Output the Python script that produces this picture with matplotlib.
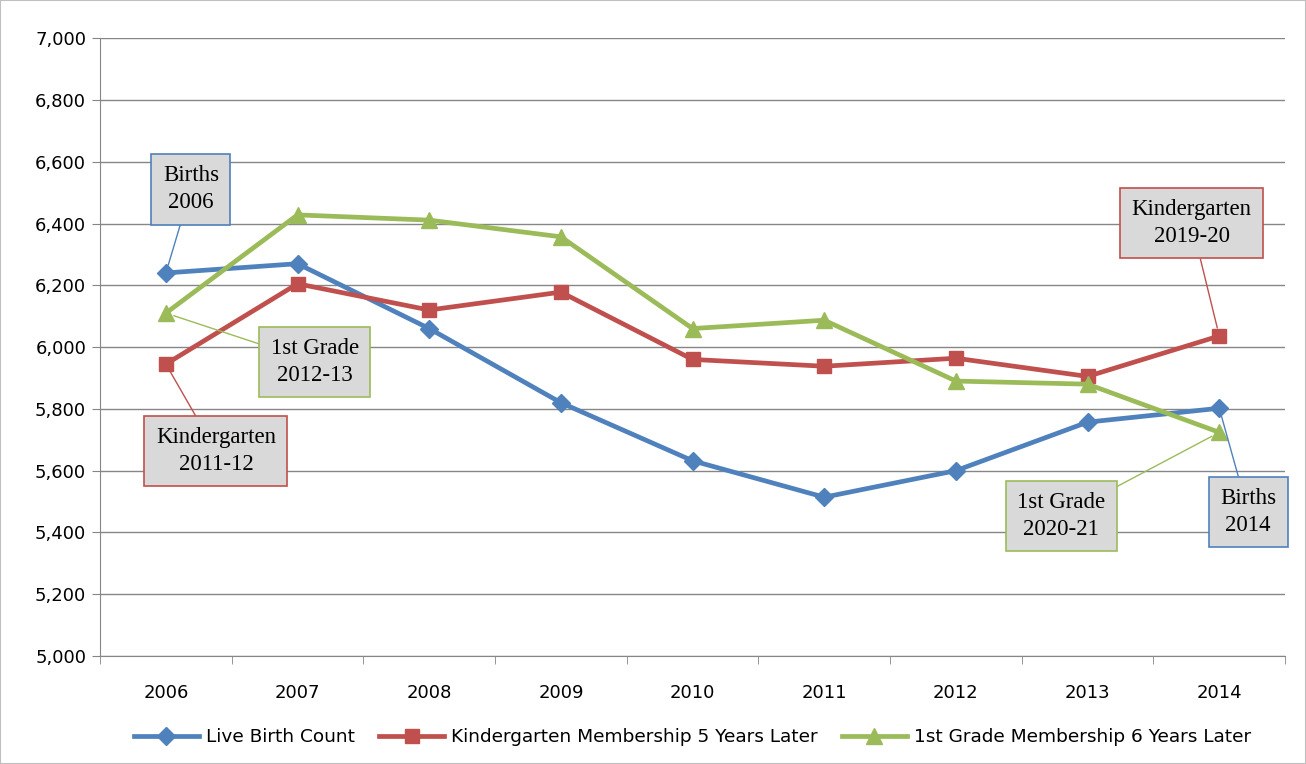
import matplotlib
matplotlib.use('Agg')
import matplotlib.pyplot as plt
import numpy as np
from matplotlib.patches import Rectangle

years = ['2006', '2007', '2008', '2009', '2010', '2011', '2012', '2013', '2014']
births = [6240, 6270, 6060, 5820, 5632, 5514, 5600, 5757, 5802]
kinder = [5945, 6205, 6120, 6178, 5960, 5938, 5964, 5905, 6036]
first = [6110, 6428, 6411, 6357, 6060, 6087, 5890, 5880, 5724]
labels = ['Live Birth Count', 'Kindergarten Membership 5 Years Later',
          '1st Grade Membership 6 Years Later']

blue, red, green = '#4f81bd', '#c0504d', '#9bbb59'
gray = '#868686'

fig = plt.figure(figsize=(13.06, 7.64), dpi=100)
ax = fig.add_axes([0.0766, 0.1414, 0.9074, 0.8086])
x = np.arange(len(years))

ax.plot(x, births, color=blue, lw=3.4, marker='D', ms=9.5, label=labels[0])
ax.plot(x, kinder, color=red, lw=3.4, marker='s', ms=10.5, label=labels[1])
ax.plot(x, first, color=green, lw=3.4, marker='^', ms=12, label=labels[2])

ax.set_xlim(-0.5, 8.5)
ax.set_ylim(5000, 7000)
ax.set_yticks(np.arange(5000, 7001, 200))
ax.set_yticklabels([f'{v:,}' for v in range(5000, 7001, 200)])
ax.set_xticks(x)
ax.set_xticklabels(years)
ax.set_xticks(np.arange(-0.5, 9, 1), minor=True)
ax.tick_params(axis='x', which='major', length=0, pad=20, labelsize=13)
ax.tick_params(axis='x', which='minor', length=6, color=gray)
ax.tick_params(axis='y', length=6, color=gray, labelsize=13, pad=4)
ax.grid(axis='y', color=gray, lw=1)
ax.set_axisbelow(True)
for s in ['top', 'right']:
    ax.spines[s].set_visible(False)
for s in ['left', 'bottom']:
    ax.spines[s].set_color(gray)

# callouts: (text, point index, series values, colour, text position)
callouts = [
    ('Births\n2006', 0, births, blue, (0.19, 6511)),
    ('Kindergarten\n2011-12', 0, kinder, red, (0.38, 5663)),
    ('1st Grade\n2012-13', 0, first, green, (1.13, 5951)),
    ('Kindergarten\n2019-20', 8, kinder, red, (7.79, 6401)),
    ('1st Grade\n2020-21', 8, first, green, (6.80, 5453)),
    ('Births\n2014', 8, births, blue, (8.22, 5466)),
]
for txt, i, ser, c, pos in callouts:
    ax.annotate(txt, xy=(i, ser[i]), xytext=pos, ha='center', va='center',
                fontsize=16.5, family='Liberation Serif', linespacing=1.35,
                bbox=dict(boxstyle='square,pad=0.5', fc='#d9d9d9', ec=c, lw=1.2),
                arrowprops=dict(arrowstyle='-', color=c, lw=1, shrinkA=0, shrinkB=6),
                annotation_clip=False, zorder=5)

ax.legend(loc='upper center', bbox_to_anchor=(0.5, -0.09), ncol=3, frameon=False,
          fontsize=13.3, handlelength=3.5, columnspacing=1.3, handletextpad=0.4)

fig.patches.append(Rectangle((0, 0), 1, 1, transform=fig.transFigure, fill=False,
                             ec='#bfbfbf', lw=1.5))

fig.savefig('out.png', dpi=100)
